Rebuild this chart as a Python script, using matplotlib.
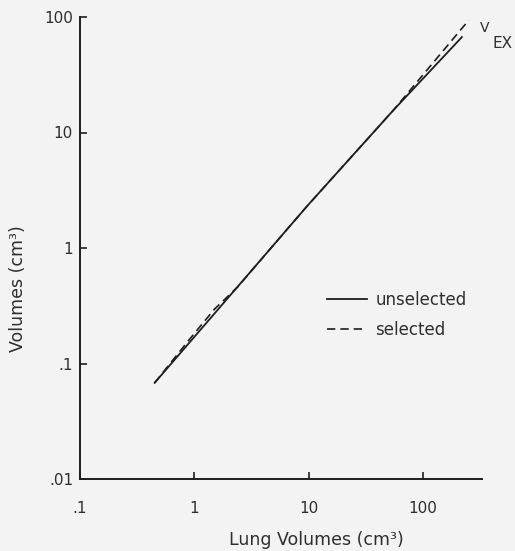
import matplotlib
matplotlib.use("Agg")
import matplotlib.pyplot as plt

plt.rcParams['font.family'] = ['DejaVu Sans']

# values (log-log)
lung_unsel = [0.45, 1.5, 4.9, 9.7, 55.0, 220.0]
vol_unsel = [0.068, 0.27, 1.05, 2.3, 15.5, 67.0]
lung_sel = [0.45, 0.9, 1.5, 2.4, 4.9, 9.7, 55.0, 253.0]
vol_sel = [0.068, 0.16, 0.295, 0.46, 1.05, 2.3, 15.5, 94.0]

xticks = [0.1, 1, 10, 100]
xticklabels = ['.1', '1', '10', '100']
yticks = [0.01, 0.1, 1, 10, 100]
yticklabels = ['.01', '.1', '1', '10', '100']

ink = '#1e1e1e'
txt = '#2e2e2e'
bg = '#f3f3f3'

fig = plt.figure(figsize=(5.15, 5.51), dpi=100, facecolor=bg)
ax = fig.add_axes([80/515, 1-479/551, 402/515, 462/551], facecolor=bg)

ax.plot(lung_unsel, vol_unsel, color=ink, lw=1.3, ls='-', label='unselected')
ax.plot(lung_sel, vol_sel, color=ink, lw=1.2, ls=(0, (5, 3)), label='selected')

ax.set_xscale('log'); ax.set_yscale('log')
ax.set_xlim(0.1, 330); ax.set_ylim(0.01, 100)
ax.set_xticks(xticks, xticklabels)
ax.set_yticks(yticks, yticklabels)
ax.minorticks_off()
ax.tick_params(direction='in', length=5, width=1.2, color=ink, labelcolor=txt,
               labelsize=11)
ax.tick_params(axis='x', pad=16)
ax.tick_params(axis='y', pad=5)
for s in ['top', 'right']:
    ax.spines[s].set_visible(False)
for s in ['left', 'bottom']:
    ax.spines[s].set_color(ink); ax.spines[s].set_linewidth(1.4)

ax.text(0.587, -0.132, 'Lung Volumes (cm³)', transform=ax.transAxes, color=txt,
        fontsize=12.5, ha='center', va='center')
ax.text(-0.154, 0.413, 'Volumes (cm³)', transform=ax.transAxes, color=txt,
        fontsize=12.5, ha='center', va='center', rotation=90)

fig.text(485/515, 1-28/551, 'V', color=txt, fontsize=10, ha='center', va='center')
fig.text(492/515, 1-43/551, 'EX', color=txt, fontsize=11, ha='left', va='center')

ax.legend(loc='center left', bbox_to_anchor=(0.614, 0.355), frameon=False,
          fontsize=12, handlelength=2.4, handletextpad=0.5, labelspacing=0.68,
          borderpad=0, borderaxespad=0, labelcolor=txt)

fig.savefig('out.png', dpi=100, facecolor=bg)
